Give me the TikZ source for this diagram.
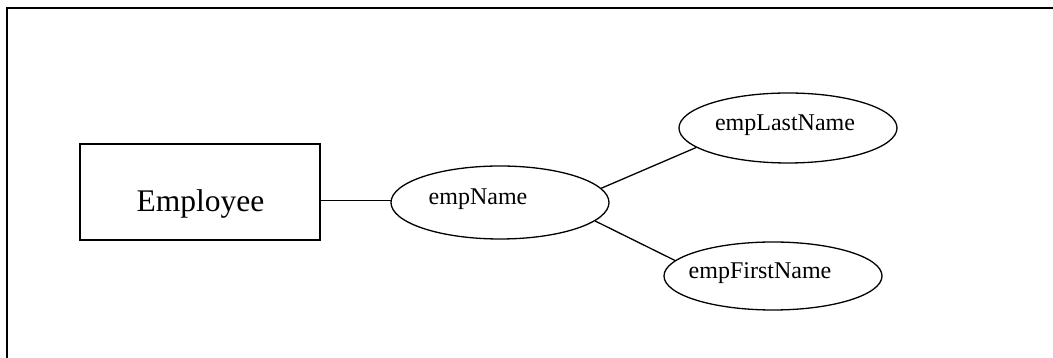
\documentclass[tikz,border=0pt]{standalone}
\usepackage{fontspec}
\setmainfont{Liberation Serif}
\usetikzlibrary{shapes.geometric}
\begin{document}
\begin{tikzpicture}[x=1pt,y=1pt,
  ent/.style={draw, line width=1.3pt, rectangle, inner sep=0pt, minimum width=240pt, minimum height=96pt},
  etxt/.style={font=\fontsize{31.5}{36}\selectfont, inner sep=0pt, anchor=base},
  attr/.style={draw, line width=1.3pt, ellipse, inner sep=0pt, minimum width=218pt},
  atxt/.style={font=\fontsize{24}{28}\selectfont, inner sep=0pt, anchor=base},
  conn/.style={line width=1.3pt}]
\useasboundingbox (0,0) rectangle (1053,358);
\draw[line width=2pt] (7,-2) coordinate (fb) -- (7,350) coordinate (fc) -- (1055,350) coordinate (fr);
\node[ent] (emp) at (200,166) {};
\node[etxt] (empt) at (200.5,146) {Employee};
\node[attr, minimum height=73pt] (nm) at (500,155.5) {};
\node[atxt] (nmt) at (478,153) {empName};
\node[attr, minimum height=70pt] (ln) at (788,230) {};
\node[atxt] (lnt) at (785,227) {empLastName};
\node[attr, minimum height=68pt] (fn) at (773,82) {};
\node[atxt] (fnt) at (760,79) {empFirstName};
\draw[conn] (emp.east |- nm.179) -- (nm.179);
\draw[conn] (nm.8.7) -- (ln.192.4);
\draw[conn] (nm.-11.5) -- (fn.171.9);
\end{tikzpicture}
\end{document}
